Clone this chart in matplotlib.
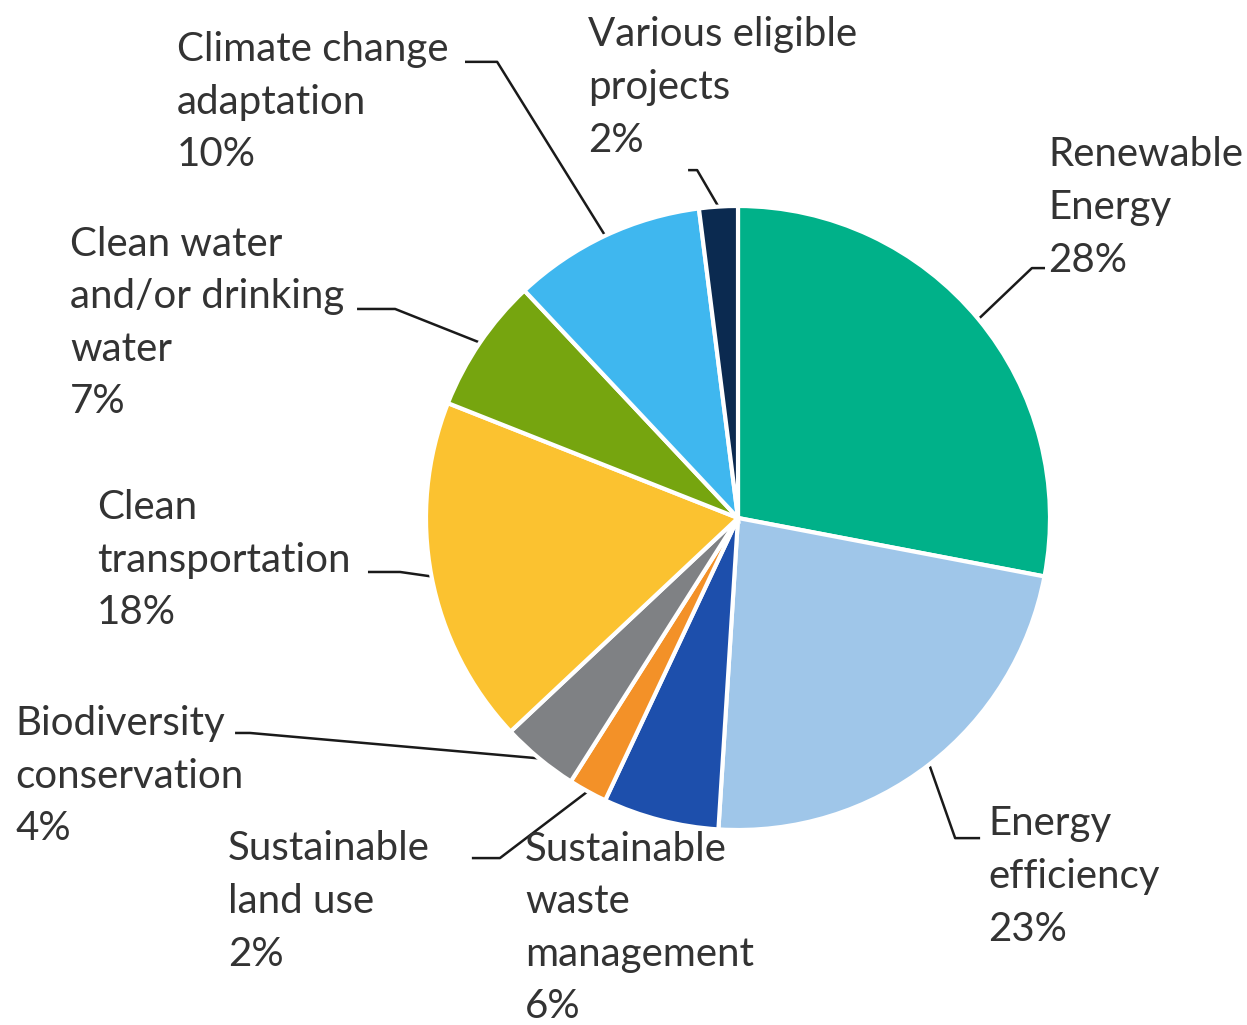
import numpy as np
import matplotlib
matplotlib.use("Agg")
import matplotlib.pyplot as plt

# shares of green bond allocation, clockwise from 12 o'clock
categories = ["Renewable\nEnergy", "Energy\nefficiency", "Sustainable\nwaste\nmanagement",
              "Sustainable\nland use", "Biodiversity\nconservation", "Clean\ntransportation",
              "Clean water\nand/or drinking\nwater", "Climate change\nadaptation",
              "Various eligible\nprojects"]
shares = [28, 23, 6, 2, 4, 18, 7, 10, 2]
colors = ["#00b189", "#9fc6e9", "#1d4fac", "#f39128", "#7f8184",
          "#fbc230", "#76a50f", "#3fb7ef", "#0b2a50"]

# label block (left x, centre y) and leader elbow/end, in pie-radius units
label_pos = [(0.994, 0.995), (0.801, -1.149), (-0.683, -1.314), (-1.635, -1.229),
             (-2.317, -0.827), (-2.054, -0.135), (-2.141, 0.625), (-1.798, 1.333),
             (-0.481, 1.380)]
elbows = [((0.942, 0.801), (0.984, 0.801)),
          ((0.696, -1.026), (0.776, -1.026)),
          None,
          ((-0.763, -1.090), (-0.853, -1.090)),
          ((-1.564, -0.689), (-1.612, -0.689)),
          ((-1.083, -0.173), (-1.186, -0.173)),
          ((-1.099, 0.670), (-1.221, 0.670)),
          ((-0.772, 1.462), (-0.875, 1.462)),
          ((-0.131, 1.115), (-0.160, 1.115))]

fig = plt.figure(figsize=(12.47, 10.25), dpi=100)
ax = fig.add_axes([0, 0, 1, 1])

wedges, _ = ax.pie(shares, colors=colors, startangle=90, counterclock=False,
                   radius=1.0, wedgeprops=dict(edgecolor="white", linewidth=3))

ax.set_xlim(-738 / 312, (1247 - 738) / 312)
ax.set_ylim((518 - 1025) / 312, 518 / 312)
ax.set_aspect("equal")
ax.axis("off")

for w, cat, val, pos, el in zip(wedges, categories, shares, label_pos, elbows):
    ax.text(pos[0], pos[1], f"{cat}\n{val}%", ha="left", va="center",
            fontsize=29, family="Lato", color="#333333", linespacing=1.52)
    if el is None:
        continue
    mid = np.deg2rad((w.theta1 + w.theta2) / 2)
    x0, y0 = np.cos(mid) * w.r, np.sin(mid) * w.r
    (ex, ey), (tx, ty) = el
    ax.plot([x0, ex, tx], [y0, ey, ty], color="#1a1a1a", lw=1.8,
            solid_capstyle="butt", zorder=0)

fig.savefig("out.png", dpi=100)
